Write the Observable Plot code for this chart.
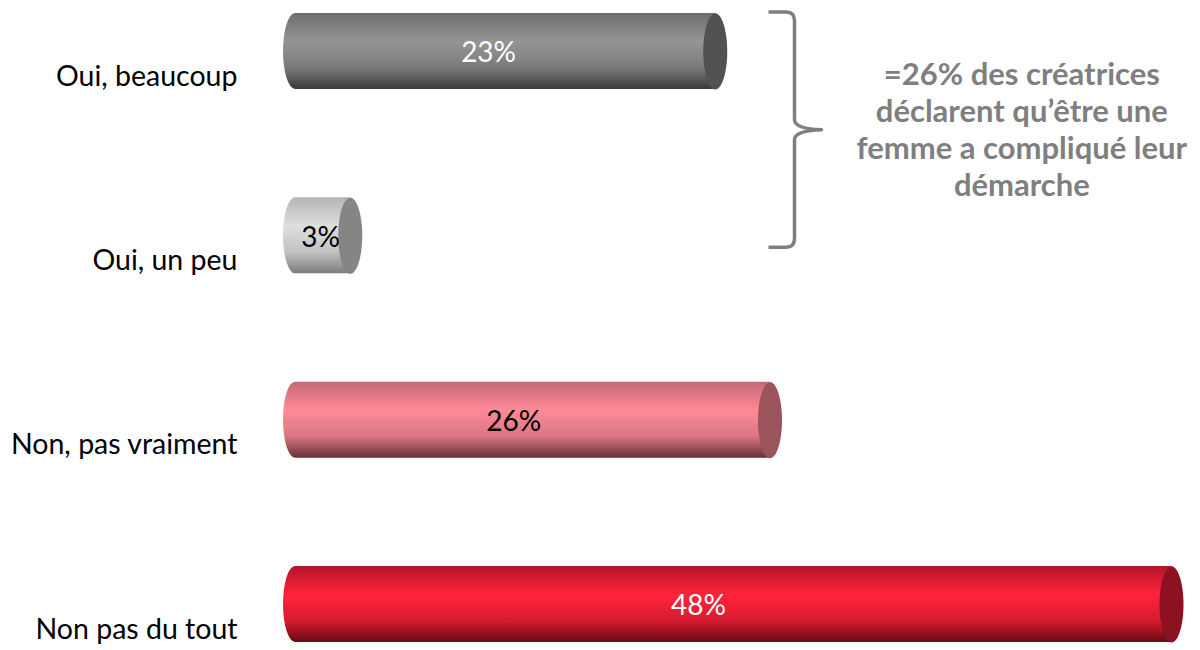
<!DOCTYPE html>
<html>
<head>
<meta charset="utf-8">
<script src="https://cdn.jsdelivr.net/npm/d3@7"></script>
<script src="https://cdn.jsdelivr.net/npm/@observablehq/plot@0.6"></script>
<style>
  html, body { margin: 0; padding: 0; background: #fff; }
  #chart { width: 1200px; height: 650px; }
</style>
</head>
<body>
<div id="chart"></div>
<script>
// ---- data ----
const categories = ["Oui, beaucoup", "Oui, un peu", "Non, pas vraiment", "Non pas du tout"];
const values = [23, 3, 26, 48];
const valueLabels = ["23%", "3%", "26%", "48%"];
const annotationLines = ["=26% des créatrices", "déclarent qu\u2019être une", "femme a compliqué leur", "démarche"];

(function () {
// ---- styles (kept apart from the data) ----
const palette = [
  {id: "g0", stops: ["#6e6e6e", "#959595", "#7a7a7a", "#3a3a3a"], cap: "#525252", text: "#ffffff"},
  {id: "g1", stops: ["#b5b5b5", "#dedede", "#c2c2c2", "#7c7c7c"], cap: "#858585", text: "#000000"},
  {id: "g2", stops: ["#c46a75", "#ff8a97", "#d87682", "#6a3038"], cap: "#9b535c", text: "#000000"},
  {id: "g3", stops: ["#b3152a", "#ff233a", "#d51b2f", "#680912"], cap: "#8c1221", text: "#ffffff"}
];
const font = "Lato, 'Open Sans', sans-serif";
const capRx = 12, capRy = 38;

const rows = categories.map((c, i) => ({
  category: c, value: values[i], label: valueLabels[i],
  fill: `url(#${palette[i].id})`, cap: palette[i].cap, textFill: palette[i].text
}));

const ellipseSymbol = {
  draw(ctx) {
    const k = 0.5523;
    ctx.moveTo(capRx, 0);
    ctx.bezierCurveTo(capRx, capRy * k, capRx * k, capRy, 0, capRy);
    ctx.bezierCurveTo(-capRx * k, capRy, -capRx, capRy * k, -capRx, 0);
    ctx.bezierCurveTo(-capRx, -capRy * k, -capRx * k, -capRy, 0, -capRy);
    ctx.bezierCurveTo(capRx * k, -capRy, capRx, -capRy * k, capRx, 0);
    ctx.closePath();
  }
};

const plot = Plot.plot({
  width: 1200,
  height: 650,
  marginLeft: 295,
  marginRight: 29,
  marginTop: 0,
  marginBottom: 0,
  style: {fontFamily: font, background: "#fff", overflow: "visible"},
  x: {domain: [0, 48], axis: null},
  y: {domain: categories, range: [0, 655], paddingInner: 0.5877, paddingOuter: 0.0705, round: false, label: null},
  color: {type: "identity"},
  marks: [
    Plot.barX(rows, {
      x: "value", y: "category", fill: "fill",
      insetLeft: -capRx, insetRight: -capRx, rx: capRx, ry: capRy
    }),
    Plot.dot(rows, {
      x: "value", y: "category", fill: "cap", stroke: null, symbol: ellipseSymbol, r: 10
    }),
    Plot.text(rows, {
      x: d => d.value * 0.46, y: "category", text: "label", fill: "textFill",
      fontSize: 28, dy: 2
    }),
    Plot.axisY({tickSize: 0, tickPadding: 58, dy: 25, fontSize: 28.5, fill: "#000", label: null}),
    Plot.text([annotationLines.join("\n")], {
      x: () => 39.8, y: () => categories[0], text: d => d,
      fontSize: 31, fontWeight: "bold", fill: "#7f7f7f", lineHeight: 1.2, dy: 77
    })
  ]
});

// gradient definitions
const svg = d3.select(plot);
const defs = svg.insert("defs", ":first-child");
palette.forEach(p => {
  const g = defs.append("linearGradient").attr("id", p.id)
    .attr("x1", 0).attr("y1", 0).attr("x2", 0).attr("y2", 1);
  [0, 0.38, 0.72, 1].forEach((o, i) => g.append("stop").attr("offset", o).attr("stop-color", p.stops[i]));
});

// curly brace annotation grouping the two "Oui" bars
const ys = plot.scale("y");
const xs = plot.scale("x");
const bw = ys.bandwidth;
const yTop = ys.apply(categories[0]) - 1;
const yBot = ys.apply(categories[1]) + bw - 26;
const yMid = (yTop + yBot) / 2;
const bx = xs.apply(values[2]) + 25;
const hook = 26, tip = 27;
const d = `M${bx - hook},${yTop} L${bx - 8},${yTop} Q${bx},${yTop} ${bx},${yTop + 9}
  L${bx},${yMid - 10} Q${bx},${yMid - 1} ${bx + tip},${yMid}
  Q${bx},${yMid + 1} ${bx},${yMid + 10}
  L${bx},${yBot - 9} Q${bx},${yBot} ${bx - 8},${yBot} L${bx - hook},${yBot}`;
svg.append("path").attr("d", d).attr("fill", "none")
  .attr("stroke", "#7f7f7f").attr("stroke-width", 3.5).attr("stroke-linejoin", "round");

document.getElementById("chart").appendChild(plot);
})();
</script>
</body>
</html>
